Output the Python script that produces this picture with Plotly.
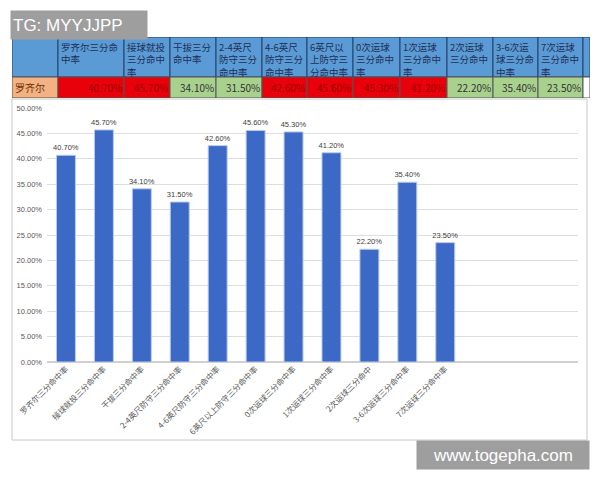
import plotly.graph_objects as go
import itertools

categories = ["罗齐尔三分命中率", "接球就投三分命中率", "干拔三分命中率", "2-4英尺防守三分命中率",
              "4-6英尺防守三分命中率", "6英尺以上防守三分命中率", "0次运球三分命中率", "1次运球三分命中率",
              "2次运球三分命中", "3-6次运球三分命中率", "7次运球三分命中率"]
header_labels = ["罗齐尔三分命<br>中率", "接球就投<br>三分命中<br>率", "干拔三分<br>命中率", "2-4英尺<br>防守三分<br>命中率",
                 "4-6英尺<br>防守三分<br>命中率", "6英尺以<br>上防守三<br>分命中率", "0次运球<br>三分命中<br>率",
                 "1次运球<br>三分命中<br>率", "2次运球<br>三分命中", "3-6次运<br>球三分命<br>中率", "7次运球<br>三分命中<br>率"]
values = [0.407, 0.457, 0.341, 0.315, 0.426, 0.456, 0.453, 0.412, 0.222, 0.354, 0.235]
player = "罗齐尔"

# table layout (pixel widths of columns, header / row heights)
col_widths = [46, 66, 46, 46, 46, 45, 46, 47, 47, 46, 45, 45, 7]
HEADER_H, ROW_H = 40, 21
edges = [0] + list(itertools.accumulate(col_widths))
TOTAL_W = edges[-1]

RED = "#e8000b"
GREEN = "#a9d18e"
HEAD = "#5b9bd5"
fills = ["#f4b183"] + [RED if v > 0.4 else GREEN for v in values] + ["#ffffff"]
txtcols = ["#6b3300"] + ["#a00000" if v > 0.4 else "#333333" for v in values] + ["#333333"]
head_texts = [""] + header_labels + [""]
cell_texts = [player] + [f"{v*100:.2f}%" for v in values] + [""]

fig = go.Figure()

fig.add_trace(go.Bar(
    x=categories, y=values,
    width=0.5,
    marker=dict(color="#3b69c5", line=dict(color="#b8ccee", width=1)),
    texttemplate="%{y:.2%}", textposition="outside", constraintext="none",
    textfont=dict(family="Liberation Sans", size=7.5, color="#404040"),
    cliponaxis=False,
    xaxis="x", yaxis="y",
))

shapes = [dict(type="rect", xref="paper", yref="paper",
               x0=12/600, x1=587/600, y0=1-440/480, y1=1-99/480,
               line=dict(color="#c8c8c8", width=1), layer="below")]
annotations = []

for i in range(len(col_widths)):
    x0, x1 = edges[i], edges[i + 1]
    shapes.append(dict(type="rect", xref="x2", yref="y2", x0=x0, x1=x1, y0=0, y1=HEADER_H,
                       fillcolor=HEAD, line=dict(color="#23406e", width=1), layer="above"))
    shapes.append(dict(type="rect", xref="x2", yref="y2", x0=x0, x1=x1, y0=HEADER_H, y1=HEADER_H + ROW_H,
                       fillcolor=fills[i], line=dict(color="#555555", width=1), layer="above"))
    if head_texts[i]:
        annotations.append(dict(text=head_texts[i], xref="x2", yref="y2", x=x0 + 1.5, y=1.5,
                                xanchor="left", yanchor="top", align="left", showarrow=False,
                                borderpad=0,
                                font=dict(family="Noto Sans CJK SC", size=9.5, color="#1f2f55")))
    if cell_texts[i]:
        left = (i == 0)
        annotations.append(dict(text=cell_texts[i], xref="x2", yref="y2",
                                x=(x0 + 2) if left else (x1 - 1), y=HEADER_H + ROW_H / 2,
                                xanchor="left" if left else "right", yanchor="middle", showarrow=False,
                                borderpad=0,
                                font=dict(family="Noto Sans CJK SC", size=10, color=txtcols[i])))

annotations += [
    dict(text="TG: MYYJJPP", xref="paper", yref="paper", x=10/600, y=1-10/480,
         xanchor="left", yanchor="top", showarrow=False, bgcolor="#9e9e9e",
         font=dict(family="Liberation Sans", size=17, color="white"),
         width=132, height=24, align="left", borderpad=2),
    dict(text="www.togepha.com", xref="paper", yref="paper", x=590/600, y=1-440/480,
         xanchor="right", yanchor="top", showarrow=False, bgcolor="#9e9e9e",
         font=dict(family="Liberation Sans", size=17, color="white"),
         width=168, height=24, align="center", borderpad=2),
]

fig.update_layout(
    width=600, height=480,
    margin=dict(l=0, r=0, t=0, b=0, autoexpand=False),
    paper_bgcolor="white", plot_bgcolor="white",
    showlegend=False,
    bargap=0.5,
    xaxis=dict(domain=[47/600, 578/600], range=[-0.5, 13.5], type="category", automargin=False,
               tickangle=-45, tickfont=dict(family="Noto Sans CJK SC", size=8, color="#595959"),
               showline=False, showgrid=False, ticks="", anchor="y"),
    yaxis=dict(domain=[1-362/480, 1-108/480], range=[0, 0.5001], tickvals=[i * 0.05 for i in range(11)],
               tickformat=".2%", automargin=False,
               tickfont=dict(family="Liberation Sans", size=7.5, color="#595959"),
               gridcolor="#dedede", gridwidth=1, zeroline=True, zerolinecolor="#d0d0d0",
               showline=False, ticks="", ticklabelstandoff=4, anchor="x"),
    xaxis2=dict(domain=[12/600, (12 + TOTAL_W)/600], range=[0, TOTAL_W], visible=False,
                automargin=False, anchor="y2", fixedrange=True),
    yaxis2=dict(domain=[1-(37 + HEADER_H + ROW_H)/480, 1-37/480], range=[HEADER_H + ROW_H, 0],
                visible=False, automargin=False, anchor="x2", fixedrange=True),
    shapes=shapes,
    annotations=annotations,
)

fig.write_html("out.html")
